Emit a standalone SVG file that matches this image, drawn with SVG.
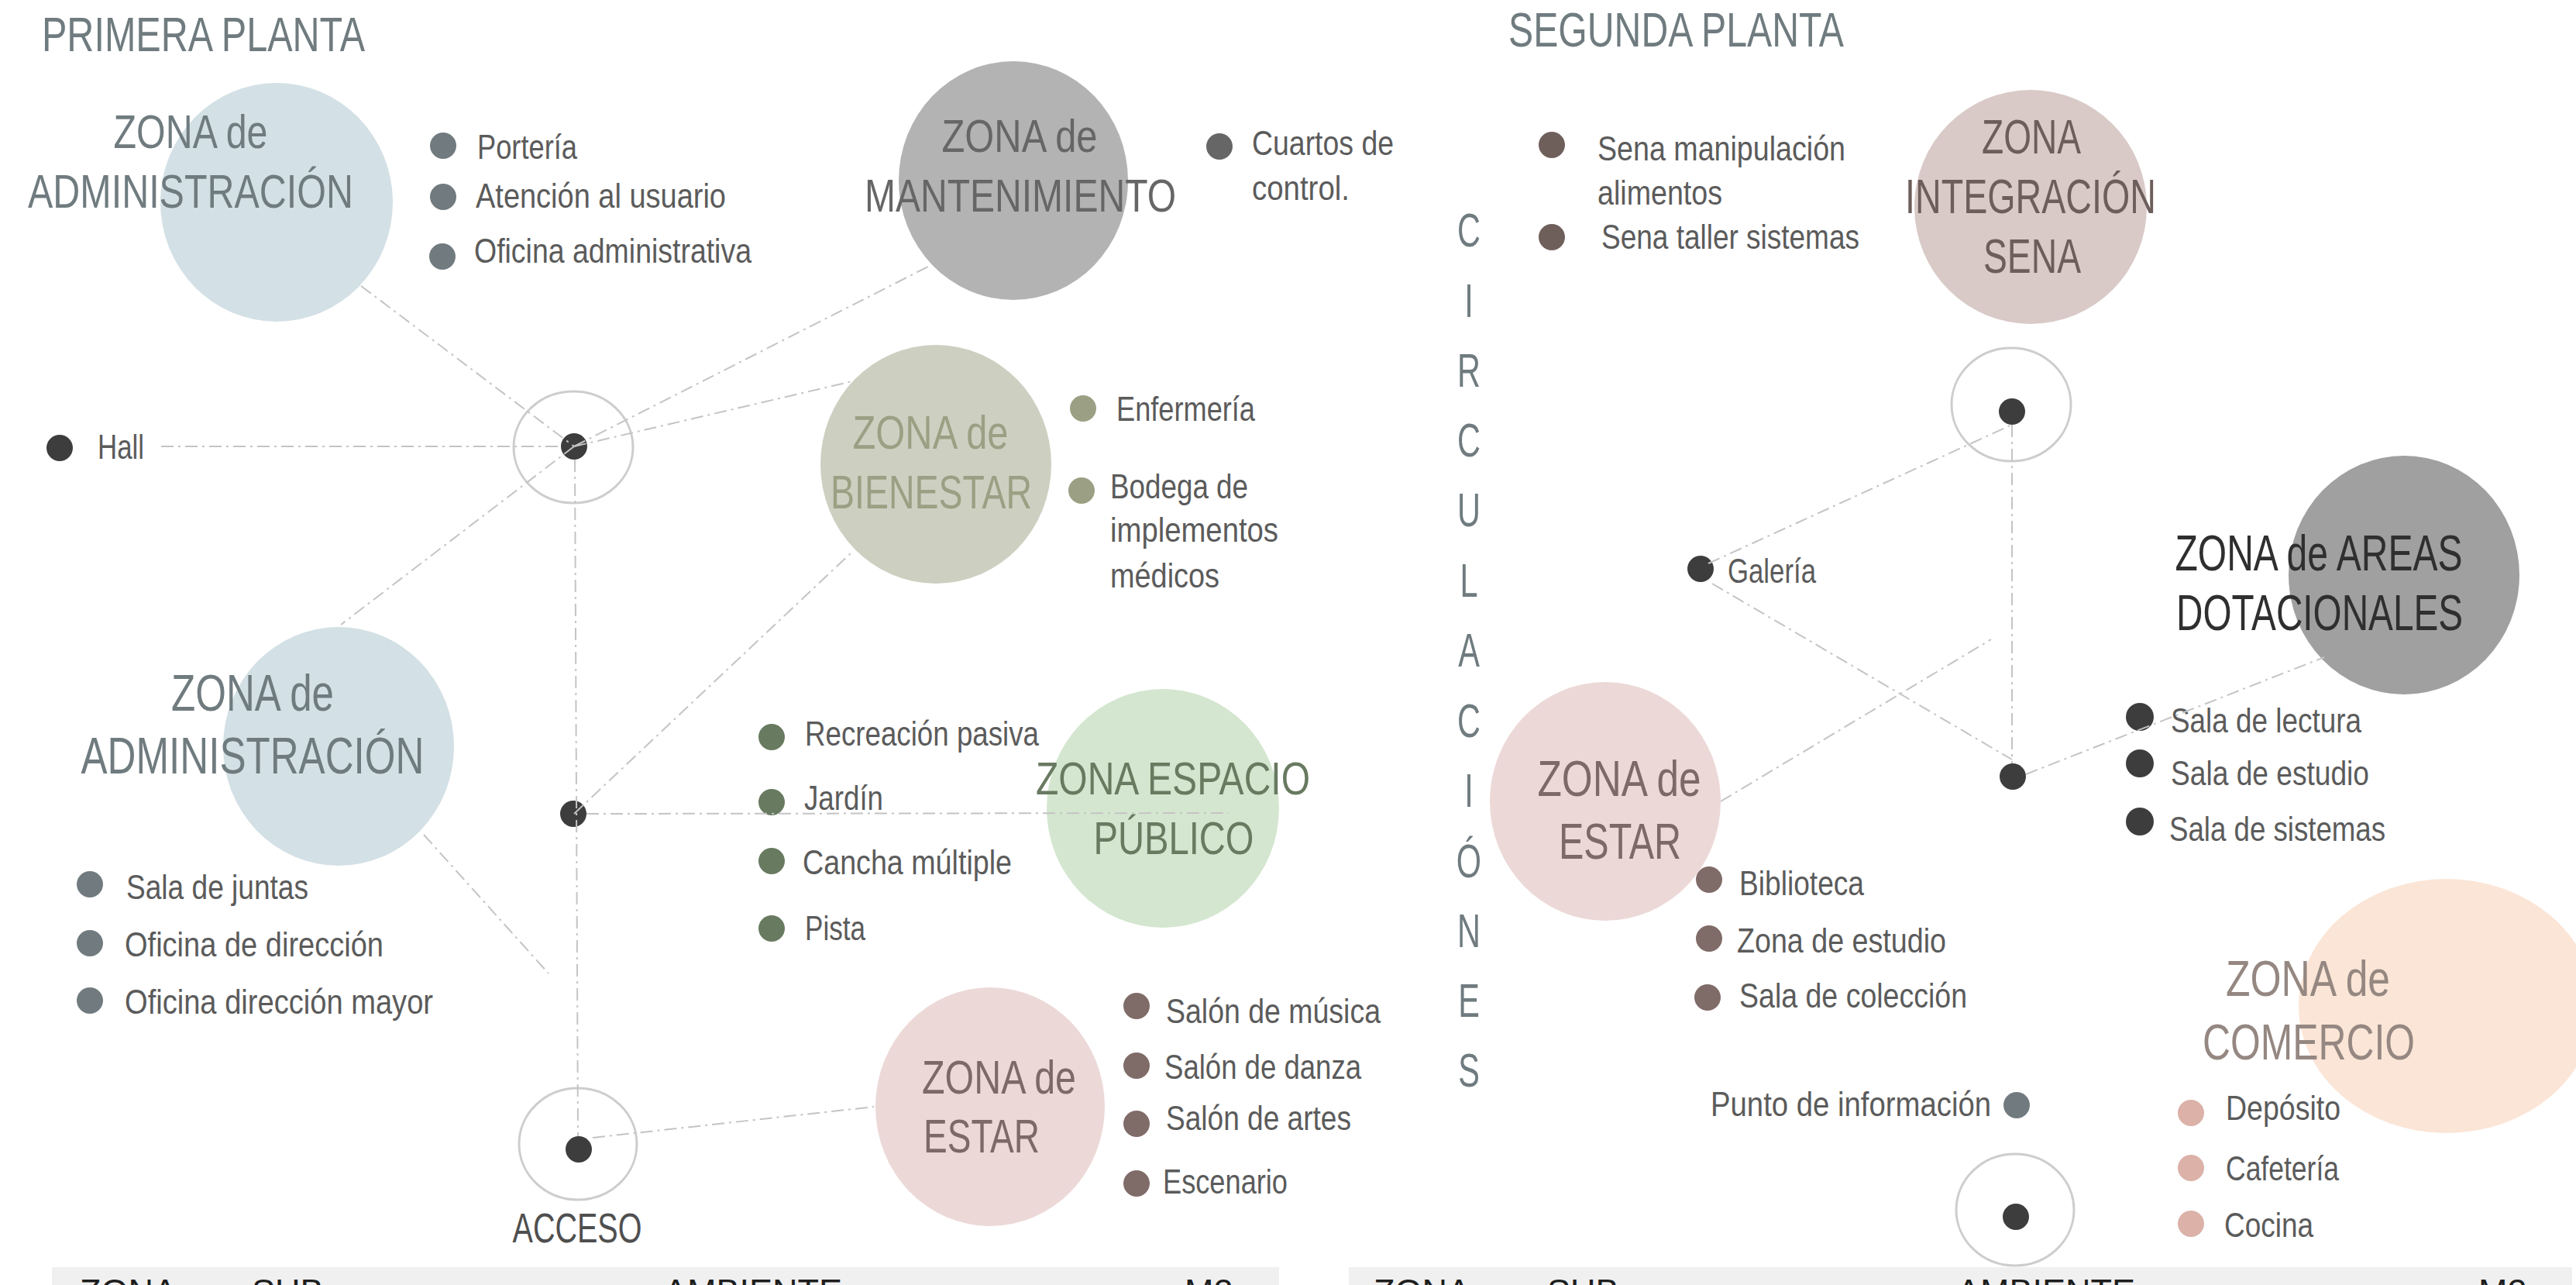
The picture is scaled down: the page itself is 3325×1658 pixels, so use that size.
<svg xmlns="http://www.w3.org/2000/svg" width="3325" height="1658" viewBox="0 0 3325 1658">
<style>
text{font-family:"Liberation Sans",Arial,sans-serif}
.ln{fill:none;stroke:#c4c4c4;stroke-width:2;stroke-dasharray:16 6 3 6}
.ring{fill:none;stroke:#cdcdcd;stroke-width:3}
.dot{fill:#3d3d3d}
.li{font-size:45px;fill:#5b5b5b}
.zl{text-anchor:middle}
.ttl{font-size:63px;fill:#6f7b7f}
.hd{font-size:45px;fill:#1e1e1e}
.band{fill:#f0f0f0}
.adm{fill:#d3e0e5}.admt{fill:#6f7b7f}.admb{fill:#717b7f}
.est{fill:#ecd9d7}.estt{fill:#7d6a67}.estb{fill:#7f6b68}
</style>
<rect width="3325" height="1658" fill="#ffffff"/>

<g id="titles">
<text class="ttl" x="54" y="66" textLength="417" lengthAdjust="spacingAndGlyphs">PRIMERA PLANTA</text>
<text class="ttl" x="1947" y="60" textLength="433" lengthAdjust="spacingAndGlyphs">SEGUNDA PLANTA</text>
</g>

<g id="zona-administracion-1">
<ellipse class="adm" cx="357" cy="261" rx="150" ry="154"/>
<text class="zl admt" x="246" y="191" font-size="61" textLength="199" lengthAdjust="spacingAndGlyphs">ZONA de</text>
<text class="zl admt" x="246" y="268" font-size="61" textLength="420" lengthAdjust="spacingAndGlyphs">ADMINISTRACIÓN</text>
<circle class="admb" cx="572" cy="188" r="17"/>
<text class="li" x="616" y="205" textLength="129" lengthAdjust="spacingAndGlyphs">Portería</text>
<circle class="admb" cx="572" cy="254" r="17"/>
<text class="li" x="614" y="268" textLength="323" lengthAdjust="spacingAndGlyphs">Atención al usuario</text>
<circle class="admb" cx="571" cy="331" r="17"/>
<text class="li" x="612" y="339" textLength="358" lengthAdjust="spacingAndGlyphs">Oficina administrativa</text>
</g>

<g id="hall">
<circle class="dot" cx="77" cy="578" r="17"/>
<text class="li" x="126" y="592" textLength="60" lengthAdjust="spacingAndGlyphs">Hall</text>
</g>

<g id="hub-1">
<ellipse class="ring" cx="740" cy="577" rx="77" ry="72"/>
<circle class="dot" cx="741" cy="576" r="17"/>
</g>

<g id="zona-mantenimiento">
<ellipse cx="1308" cy="233" rx="148" ry="154" fill="#b3b3b3"/>
<text class="zl" x="1316" y="196" font-size="60" fill="#666666" textLength="201" lengthAdjust="spacingAndGlyphs">ZONA de</text>
<text class="zl" x="1317" y="273" font-size="60" fill="#666666" textLength="402" lengthAdjust="spacingAndGlyphs">MANTENIMIENTO</text>
<circle cx="1574" cy="189" r="17" fill="#666666"/>
<text class="li" x="1616" y="200" textLength="183" lengthAdjust="spacingAndGlyphs">Cuartos de</text>
<text class="li" x="1616" y="258" textLength="126" lengthAdjust="spacingAndGlyphs">control.</text>
</g>

<g id="zona-bienestar">
<ellipse cx="1208" cy="599" rx="149" ry="154" fill="#cdd0c1"/>
<text class="zl" x="1201" y="579" font-size="61" fill="#9ba084" textLength="201" lengthAdjust="spacingAndGlyphs">ZONA de</text>
<text class="zl" x="1202" y="656" font-size="61" fill="#9ba084" textLength="260" lengthAdjust="spacingAndGlyphs">BIENESTAR</text>
<circle cx="1398" cy="527" r="17" fill="#9ba084"/>
<text class="li" x="1441" y="543" textLength="179" lengthAdjust="spacingAndGlyphs">Enfermería</text>
<circle cx="1396" cy="633" r="17" fill="#9ba084"/>
<text class="li" x="1433" y="643" textLength="178" lengthAdjust="spacingAndGlyphs">Bodega de</text>
<text class="li" x="1433" y="699" textLength="217" lengthAdjust="spacingAndGlyphs">implementos</text>
<text class="li" x="1433" y="758" textLength="141" lengthAdjust="spacingAndGlyphs">médicos</text>
</g>

<g id="zona-administracion-2">
<ellipse class="adm" cx="437" cy="963" rx="149" ry="154"/>
<text class="zl admt" x="326" y="917" font-size="66" textLength="210" lengthAdjust="spacingAndGlyphs">ZONA de</text>
<text class="zl admt" x="326" y="998" font-size="66" textLength="443" lengthAdjust="spacingAndGlyphs">ADMINISTRACIÓN</text>
<circle class="admb" cx="116" cy="1141" r="17"/>
<text class="li" x="163" y="1160" textLength="235" lengthAdjust="spacingAndGlyphs">Sala de juntas</text>
<circle class="admb" cx="116" cy="1217" r="17"/>
<text class="li" x="161" y="1234" textLength="334" lengthAdjust="spacingAndGlyphs">Oficina de dirección</text>
<circle class="admb" cx="116" cy="1291" r="17"/>
<text class="li" x="161" y="1308" textLength="398" lengthAdjust="spacingAndGlyphs">Oficina dirección mayor</text>
</g>

<g id="hub-2">
<circle class="dot" cx="740" cy="1050" r="17"/>
</g>

<g id="zona-espacio-publico">
<ellipse cx="1501" cy="1043" rx="150" ry="154" fill="#d4e6cf"/>
<text class="zl" x="1514" y="1025" font-size="60" fill="#687a60" textLength="354" lengthAdjust="spacingAndGlyphs">ZONA ESPACIO</text>
<text class="zl" x="1515" y="1102" font-size="60" fill="#687a60" textLength="207" lengthAdjust="spacingAndGlyphs">PÚBLICO</text>
<circle cx="996" cy="951" r="17" fill="#687a60"/>
<text class="li" x="1039" y="962" textLength="302" lengthAdjust="spacingAndGlyphs">Recreación pasiva</text>
<circle cx="996" cy="1035" r="17" fill="#687a60"/>
<text class="li" x="1038" y="1045" textLength="102" lengthAdjust="spacingAndGlyphs">Jardín</text>
<circle cx="996" cy="1111" r="17" fill="#687a60"/>
<text class="li" x="1036" y="1128" textLength="270" lengthAdjust="spacingAndGlyphs">Cancha múltiple</text>
<circle cx="996" cy="1198" r="17" fill="#687a60"/>
<text class="li" x="1039" y="1213" textLength="78" lengthAdjust="spacingAndGlyphs">Pista</text>
</g>

<g id="acceso">
<ellipse class="ring" cx="746" cy="1476" rx="76" ry="72"/>
<circle class="dot" cx="747" cy="1483" r="17"/>
<text class="zl" x="745" y="1603" font-size="53" fill="#4f4f4f" textLength="167" lengthAdjust="spacingAndGlyphs">ACCESO</text>
</g>

<g id="zona-estar-1">
<ellipse class="est" cx="1278" cy="1428" rx="148" ry="154"/>
<text class="estt" x="1190" y="1411" font-size="61" textLength="199" lengthAdjust="spacingAndGlyphs">ZONA de</text>
<text class="estt" x="1192" y="1487" font-size="61" textLength="150" lengthAdjust="spacingAndGlyphs">ESTAR</text>
<circle class="estb" cx="1467" cy="1298" r="17"/>
<text class="li" x="1505" y="1320" textLength="277" lengthAdjust="spacingAndGlyphs">Salón de música</text>
<circle class="estb" cx="1467" cy="1375" r="17"/>
<text class="li" x="1503" y="1392" textLength="254" lengthAdjust="spacingAndGlyphs">Salón de danza</text>
<circle class="estb" cx="1467" cy="1450" r="17"/>
<text class="li" x="1505" y="1458" textLength="239" lengthAdjust="spacingAndGlyphs">Salón de artes</text>
<circle class="estb" cx="1467" cy="1527" r="17"/>
<text class="li" x="1501" y="1540" textLength="161" lengthAdjust="spacingAndGlyphs">Escenario</text>
</g>

<g id="circulaciones" fill="#6f7b7f" font-size="61" text-anchor="middle" transform="translate(1896,0) scale(0.68,1)">
<text x="0" y="318">C</text>
<text x="0" y="409">I</text>
<text x="0" y="499">R</text>
<text x="0" y="589">C</text>
<text x="0" y="679">U</text>
<text x="0" y="770">L</text>
<text x="0" y="860">A</text>
<text x="0" y="951">C</text>
<text x="0" y="1041">I</text>
<text x="0" y="1132">Ó</text>
<text x="0" y="1222">N</text>
<text x="0" y="1312">E</text>
<text x="0" y="1402">S</text>
</g>

<g id="zona-integracion-sena">
<ellipse cx="2621" cy="267" rx="150" ry="151" fill="#d9cac7"/>
<text class="zl" x="2622" y="198" font-size="63" fill="#6d5e5b" textLength="128" lengthAdjust="spacingAndGlyphs">ZONA</text>
<text class="zl" x="2621" y="275" font-size="63" fill="#6d5e5b" textLength="324" lengthAdjust="spacingAndGlyphs">INTEGRACIÓN</text>
<text class="zl" x="2623" y="352" font-size="63" fill="#6d5e5b" textLength="126" lengthAdjust="spacingAndGlyphs">SENA</text>
<circle cx="2003" cy="187" r="17" fill="#6f5f5b"/>
<text class="li" x="2062" y="207" textLength="320" lengthAdjust="spacingAndGlyphs">Sena manipulación</text>
<text class="li" x="2062" y="264" textLength="161" lengthAdjust="spacingAndGlyphs">alimentos</text>
<circle cx="2003" cy="306" r="17" fill="#6f5f5b"/>
<text class="li" x="2067" y="321" textLength="333" lengthAdjust="spacingAndGlyphs">Sena taller sistemas</text>
</g>

<g id="hub-3">
<ellipse class="ring" cx="2596" cy="522" rx="77" ry="73"/>
<circle class="dot" cx="2597" cy="531" r="17"/>
</g>

<g id="galeria">
<circle class="dot" cx="2195" cy="734" r="17"/>
<text class="li" x="2230" y="752" textLength="114" lengthAdjust="spacingAndGlyphs">Galería</text>
</g>

<g id="hub-4">
<circle class="dot" cx="2598" cy="1002" r="17"/>
</g>

<g id="zona-areas-dotacionales">
<ellipse cx="3103" cy="742" rx="149" ry="154" fill="#a0a0a0"/>
<text class="zl" x="2993" y="736" font-size="64" fill="#2f2f2f" textLength="371" lengthAdjust="spacingAndGlyphs">ZONA de AREAS</text>
<text class="zl" x="2994" y="813" font-size="64" fill="#2f2f2f" textLength="370" lengthAdjust="spacingAndGlyphs">DOTACIONALES</text>
<circle class="dot" cx="2762" cy="925" r="18"/>
<text class="li" x="2802" y="945" textLength="246" lengthAdjust="spacingAndGlyphs">Sala de lectura</text>
<circle class="dot" cx="2762" cy="985" r="18"/>
<text class="li" x="2802" y="1013" textLength="256" lengthAdjust="spacingAndGlyphs">Sala de estudio</text>
<circle class="dot" cx="2762" cy="1060" r="18"/>
<text class="li" x="2800" y="1085" textLength="279" lengthAdjust="spacingAndGlyphs">Sala de sistemas</text>
</g>

<g id="zona-estar-2">
<ellipse class="est" cx="2072" cy="1034" rx="149" ry="154"/>
<text class="zl estt" x="2090" y="1027" font-size="65" textLength="211" lengthAdjust="spacingAndGlyphs">ZONA de</text>
<text class="zl estt" x="2091" y="1108" font-size="65" textLength="158" lengthAdjust="spacingAndGlyphs">ESTAR</text>
<circle class="estb" cx="2206" cy="1135" r="17"/>
<text class="li" x="2245" y="1155" textLength="161" lengthAdjust="spacingAndGlyphs">Biblioteca</text>
<circle class="estb" cx="2206" cy="1211" r="17"/>
<text class="li" x="2242" y="1229" textLength="270" lengthAdjust="spacingAndGlyphs">Zona de estudio</text>
<circle class="estb" cx="2204" cy="1287" r="17"/>
<text class="li" x="2245" y="1300" textLength="294" lengthAdjust="spacingAndGlyphs">Sala de colección</text>
</g>

<g id="punto-informacion">
<text class="li" x="2208" y="1440" textLength="362" lengthAdjust="spacingAndGlyphs">Punto de información</text>
<circle class="admb" cx="2603" cy="1426" r="17"/>
</g>

<g id="hub-5">
<ellipse class="ring" cx="2601" cy="1561" rx="76" ry="72"/>
<circle class="dot" cx="2602" cy="1570" r="17"/>
</g>

<g id="zona-comercio">
<ellipse cx="3158" cy="1298" rx="191" ry="164" fill="#fbe5d6"/>
<text class="zl" x="2979" y="1285" font-size="64" fill="#958781" textLength="212" lengthAdjust="spacingAndGlyphs">ZONA de</text>
<text class="zl" x="2980" y="1367" font-size="64" fill="#958781" textLength="274" lengthAdjust="spacingAndGlyphs">COMERCIO</text>
<circle cx="2828" cy="1436" r="17" fill="#dbb1a8"/>
<text class="li" x="2873" y="1445" textLength="148" lengthAdjust="spacingAndGlyphs">Depósito</text>
<circle cx="2828" cy="1507" r="17" fill="#dbb1a8"/>
<text class="li" x="2873" y="1523" textLength="146" lengthAdjust="spacingAndGlyphs">Cafetería</text>
<circle cx="2828" cy="1579" r="17" fill="#dbb1a8"/>
<text class="li" x="2871" y="1596" textLength="115" lengthAdjust="spacingAndGlyphs">Cocina</text>
</g>

<g id="connectors">
<line class="ln" x1="208" y1="576" x2="724" y2="576"/>
<line class="ln" x1="466" y1="369" x2="741" y2="576"/>
<line class="ln" x1="741" y1="576" x2="1198" y2="344"/>
<line class="ln" x1="741" y1="576" x2="1100" y2="492"/>
<line class="ln" x1="741" y1="576" x2="440" y2="806"/>
<line class="ln" x1="742" y1="593" x2="746" y2="1466"/>
<line class="ln" x1="741" y1="1050" x2="1099" y2="713"/>
<line class="ln" x1="757" y1="1050" x2="1586" y2="1049"/>
<line class="ln" x1="547" y1="1077" x2="708" y2="1256"/>
<line class="ln" x1="765" y1="1468" x2="1128" y2="1428"/>
<line class="ln" x1="2205" y1="727" x2="2597" y2="548"/>
<line class="ln" x1="2597" y1="548" x2="2597" y2="985"/>
<line class="ln" x1="2210" y1="753" x2="2597" y2="980"/>
<line class="ln" x1="2221" y1="1034" x2="2570" y2="825"/>
<line class="ln" x1="2615" y1="999" x2="3000" y2="848"/>
</g>

<g id="tabla-1">
<rect class="band" x="67" y="1635" width="1584" height="23"/>
<text class="hd" x="103" y="1682">ZONA</text>
<text class="hd" x="325" y="1682">SUB</text>
<text class="hd" x="857" y="1682">AMBIENTE</text>
<text class="hd" x="1529" y="1682">M2</text>
</g>
<g id="tabla-2">
<rect class="band" x="1741" y="1635" width="1579" height="23"/>
<text class="hd" x="1773" y="1682">ZONA</text>
<text class="hd" x="1997" y="1682">SUB</text>
<text class="hd" x="2526" y="1682">AMBIENTE</text>
<text class="hd" x="3199" y="1682">M2</text>
</g>
</svg>
